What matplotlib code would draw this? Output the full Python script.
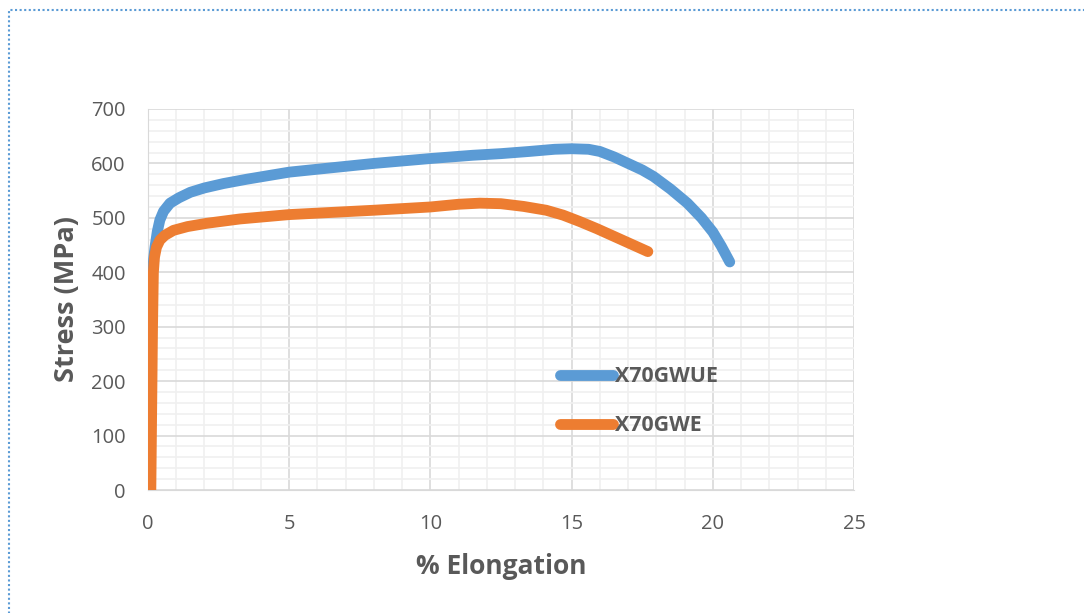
import matplotlib.pyplot as plt
from matplotlib.patches import Rectangle
from matplotlib.ticker import MultipleLocator

plt.rcParams["font.family"] = ["Open Sans", "DejaVu Sans"]

# data
x_wue = [0.0, 0.06, 0.1, 0.15, 0.2, 0.25, 0.33, 0.42, 0.55, 0.78, 1.1, 1.5, 2.0, 2.67, 3.5,
         5.0, 6.5, 8.0, 10.0, 11.5, 12.5, 13.5, 14.4, 15.0, 15.6, 16.0, 16.5, 17.0, 17.5,
         17.9, 18.5, 19.1, 19.6, 20.0, 20.3, 20.6]
y_wue = [0.0, 200.0, 320.0, 395.0, 425.0, 447.0, 475.0, 496.0, 512.0, 527.0, 537.0, 547.0,
         555.0, 563.0, 571.0, 584.0, 592.0, 600.0, 609.0, 615.0, 618.0, 622.0, 626.0, 627.0,
         626.0, 622.0, 612.0, 600.0, 588.0, 576.0, 553.0, 527.0, 500.0, 474.0, 448.0, 419.0]
x_we = [0.1, 0.13, 0.16, 0.19, 0.23, 0.3, 0.42, 0.6, 0.9, 1.4, 2.08, 3.26, 5.0, 6.5, 8.0,
        10.0, 11.0, 11.75, 12.5, 13.3, 14.1, 14.7, 15.3, 15.9, 16.5, 17.1, 17.7]
y_we = [0.0, 150.0, 300.0, 400.0, 428.0, 446.0, 459.0, 468.0, 477.0, 484.0, 490.0, 498.0,
        506.0, 510.0, 514.0, 520.0, 525.0, 527.0, 526.0, 521.0, 514.0, 505.0, 493.0, 480.0,
        466.0, 452.0, 438.0]

fig = plt.figure(figsize=(10.84, 6.13), dpi=100)
ax = fig.add_axes([148/1084, 1 - 490/613, (854 - 148)/1084, (490 - 109)/613])

ax.plot(x_wue, y_wue, color="#5b9bd5", lw=7.8, solid_capstyle="round", solid_joinstyle="round", label="X70GWUE", zorder=3)
ax.plot(x_we, y_we, color="#ed7d31", lw=7.8, solid_capstyle="round", solid_joinstyle="round", label="X70GWE", zorder=4)

ax.set_xlim(0, 25)
ax.set_ylim(0, 700)
ax.xaxis.set_major_locator(MultipleLocator(5))
ax.xaxis.set_minor_locator(MultipleLocator(1))
ax.yaxis.set_major_locator(MultipleLocator(100))
ax.yaxis.set_minor_locator(MultipleLocator(20))
ax.grid(which="major", color="#d9d9d9", lw=1.2)
ax.grid(which="minor", color="#f0f0f0", lw=1.2)
ax.set_axisbelow(True)
for s in ax.spines.values():
    s.set_visible(False)
ax.spines["bottom"].set_visible(True)
ax.spines["bottom"].set_color("#d9d9d9")
ax.spines["left"].set_visible(True)
ax.spines["left"].set_color("#d9d9d9")
ax.tick_params(which="both", length=0, labelsize=14.5, labelcolor="#595959")
ax.tick_params(axis="x", pad=17)
ax.tick_params(axis="y", pad=16)

ax.set_xlabel("% Elongation", fontsize=19, fontweight="bold", color="#595959", labelpad=14)
ax.set_ylabel("Stress (MPa)", fontsize=19.5, fontweight="bold", color="#595959", labelpad=8)

leg = ax.legend(loc="upper left", bbox_to_anchor=(541/1084, 1 - 347/613), bbox_transform=fig.transFigure,
                frameon=False, handlelength=2.45, handletextpad=0.12, labelspacing=1.32,
                prop={"size": 15.4, "weight": "bold"})
for t in leg.get_texts():
    t.set_color("#595959")

# dotted frame of the chart area
fig.patches.append(Rectangle((9/1084, -0.1), 1.2, 1 - 10/613 + 0.1, transform=fig.transFigure,
                             fill=False, edgecolor="#5b9bd5", lw=1.5, linestyle=(0, (1, 1.2))))

plt.savefig("out.png", dpi=100)
